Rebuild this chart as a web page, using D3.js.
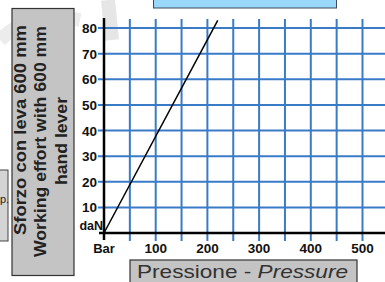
<!DOCTYPE html>
<html><head><meta charset="utf-8">
<script src="https://cdn.jsdelivr.net/npm/d3@7"></script>
<style>body{margin:0;background:#fff}svg{display:block;font-family:"Liberation Sans",Arial,sans-serif}</style>
</head><body><svg id="c" width="385" height="282"></svg>
<script>
const yTicks = [10,20,30,40,50,60,70,80];
const xTicks = [100,200,300,400,500];
const xGrid = [50,100,150,200,250,300,350,400,450,500,550];
const lineData = [[0,0],[220,83]];
const yTitle = ["Sforzo con leva 600 mm","Working effort with 600 mm","hand lever"];
const xTitle = ["Pressione - ","Pressure"];

const svg = d3.select("#c");
const x = d3.scaleLinear().domain([0,100]).range([104,155.7]);
const y = d3.scaleLinear().domain([0,80]).range([233,28]);

// background watermark hints
svg.append("path").attr("d","M0,40 Q30,10 80,20").attr("fill","none").attr("stroke","#ececec").attr("stroke-width",14);
svg.append("path").attr("d","M108,0 L112,40").attr("fill","none").attr("stroke","#e6e6e6").attr("stroke-width",14);

// top blue box
svg.append("rect").attr("x",153.5).attr("y",-2).attr("width",183).attr("height",10)
  .attr("fill","#99d8f8").attr("stroke","#3b4a5a").attr("stroke-width",1);

const grid = "#3a7bc8";
svg.append("g").selectAll("line").data(yTicks).join("line")
  .attr("x1",98).attr("x2",385).attr("y1",d=>y(d)).attr("y2",d=>y(d))
  .attr("stroke",grid).attr("stroke-width",2);
svg.append("g").selectAll("line").data(xGrid).join("line")
  .attr("x1",d=>x(d)).attr("x2",d=>x(d)).attr("y1",19).attr("y2",241)
  .attr("stroke",grid).attr("stroke-width",2);

// axes
svg.append("line").attr("x1",104).attr("x2",104).attr("y1",18).attr("y2",240).attr("stroke","#000").attr("stroke-width",2.5);
svg.append("line").attr("x1",99).attr("x2",385).attr("y1",233).attr("y2",233).attr("stroke","#000").attr("stroke-width",2.5);

// data line
svg.append("path").datum(lineData)
  .attr("d",d3.line().x(d=>x(d[0])).y(d=>y(d[1])))
  .attr("fill","none").attr("stroke","#000").attr("stroke-width",1.5);

// tick labels
svg.append("g").selectAll("text").data(yTicks).join("text")
  .attr("x",97).attr("y",d=>y(d)+5).attr("text-anchor","end")
  .attr("font-size",13.5).attr("font-weight","bold").attr("fill","#111").text(d=>d);
svg.append("text").attr("x",103).attr("y",230).attr("text-anchor","end")
  .attr("font-size",12.5).attr("font-weight","bold").attr("fill","#111").text("daN");
svg.append("g").selectAll("text").data(xTicks).join("text")
  .attr("x",d=>x(d)).attr("y",253).attr("text-anchor","middle")
  .attr("font-size",13.5).attr("font-weight","bold").attr("fill","#111").text(d=>d);
svg.append("text").attr("x",104).attr("y",253).attr("text-anchor","middle")
  .attr("font-size",13).attr("font-weight","bold").attr("fill","#111").text("Bar");

// left small box
svg.append("rect").attr("x",-2).attr("y",170).attr("width",10).attr("height",71)
  .attr("fill","#d4d4d4").attr("stroke","#444").attr("stroke-width",1);
svg.append("text").attr("x",0).attr("y",203).attr("font-size",11).attr("fill","#222").text("p.");

// y title box
svg.append("rect").attr("x",12).attr("y",8.5).attr("width",62).attr("height",267)
  .attr("fill","#c4c4c4").attr("stroke","#333").attr("stroke-width",1.2);
const yPos = [[26,130,210],[46,141.5,231],[67,141,88]];
yTitle.forEach((t,i)=>{
  svg.append("text").attr("transform",`translate(${yPos[i][0]},${yPos[i][1]}) rotate(-90)`)
    .attr("text-anchor","middle").attr("font-size",16.5).attr("font-weight","bold").attr("fill","#222")
    .attr("textLength",yPos[i][2]).attr("lengthAdjust","spacingAndGlyphs").text(t);
});

// x title box
svg.append("rect").attr("x",130).attr("y",260).attr("width",227).attr("height",26)
  .attr("fill","#c4c4c4").attr("stroke","#333").attr("stroke-width",1.2);
const xt = svg.append("text").attr("x",137).attr("y",278)
  .attr("font-size",19).attr("fill","#333")
  .attr("textLength",211).attr("lengthAdjust","spacingAndGlyphs");
xt.append("tspan").text(xTitle[0]);
xt.append("tspan").attr("font-style","italic").text(xTitle[1]);
</script></body></html>
